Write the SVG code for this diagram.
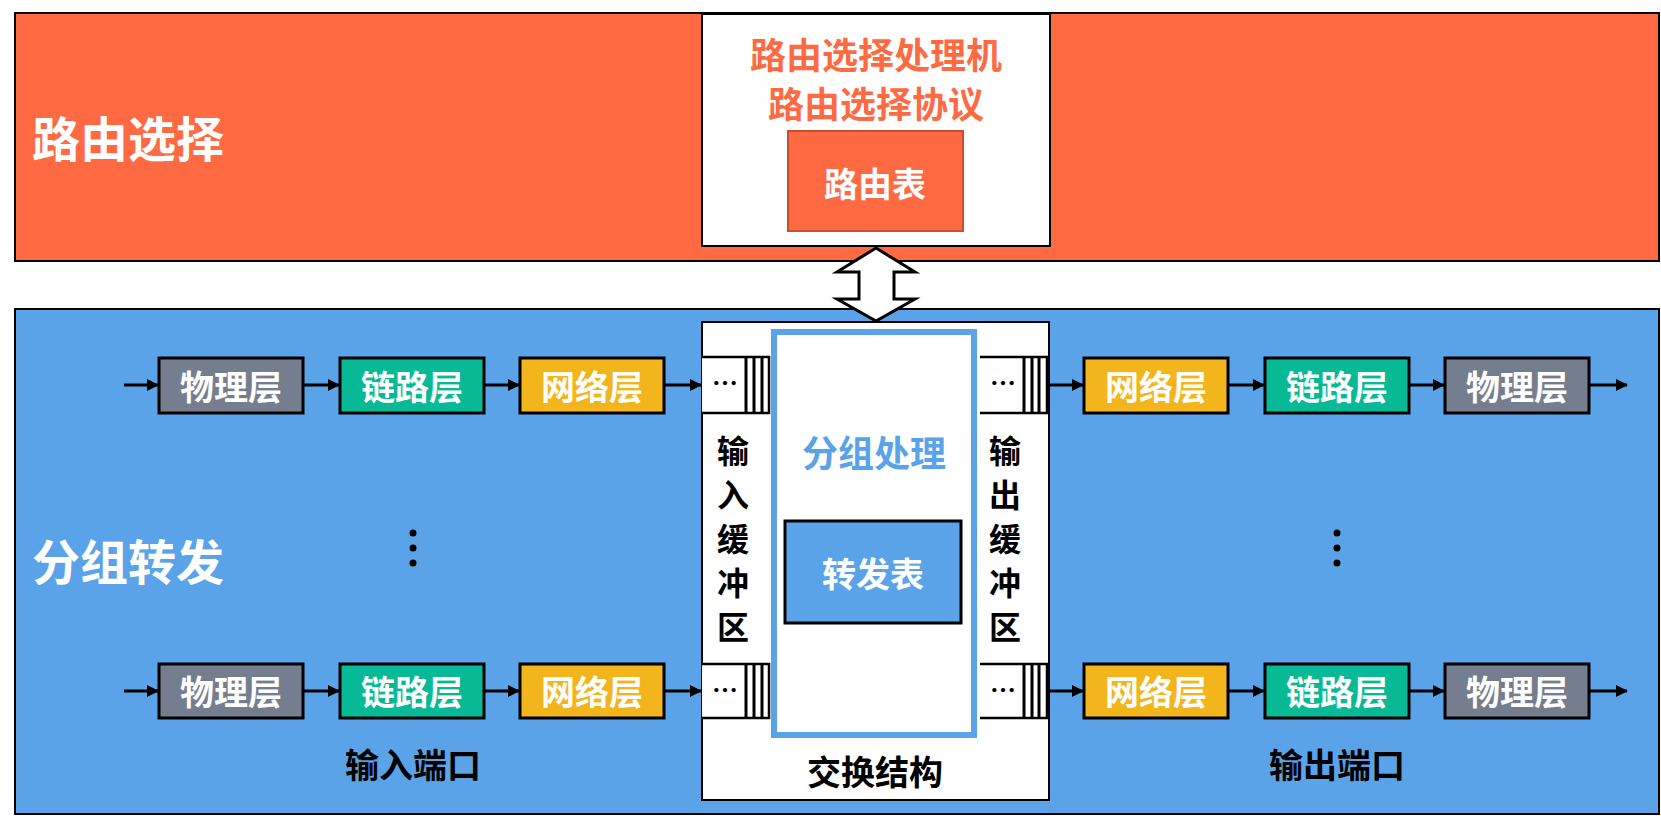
<svg xmlns="http://www.w3.org/2000/svg" width="1661" height="816" viewBox="0 0 1661 816">
<style>
text{font-family:"Noto Sans CJK SC","Liberation Sans",sans-serif;font-weight:bold;text-anchor:middle;dominant-baseline:central}
.w{fill:#fff}.k{fill:#000}
.box{stroke:#000;stroke-width:3}
.g{fill:#747e8f}.gr{fill:#08b995}.y{fill:#f2b61c}
.lt{font-size:34px}
.ln{stroke:#000;stroke-width:3;fill:none}
.buf{fill:#fff;stroke:#000;stroke-width:2.5}
</style>
<defs>
<marker id="a" markerWidth="12" markerHeight="12" refX="11" refY="6" orient="auto" markerUnits="userSpaceOnUse" viewBox="0 0 12 12"><path d="M0,0L12,6L0,12z"/></marker></defs>
<g id="routing"><rect x="15" y="13" width="1644" height="248" fill="#ff6a43" stroke="#000" stroke-width="2"/>
<text x="128" y="136" class="w" font-size="48">路由选择</text></g>
<g id="processor"><rect x="702" y="14" width="348" height="232" fill="#fff" stroke="#000" stroke-width="2"/>
<text x="876" y="53" fill="#ff6a43" font-size="36">路由选择处理机</text>
<text x="876" y="102" fill="#ff6a43" font-size="36">路由选择协议</text>
<rect x="788" y="131" width="175" height="100" fill="#ff6a43" stroke="#c9502f" stroke-width="2"/>
<text x="875" y="182" class="w" font-size="34">路由表</text></g>
<g id="forwarding"><rect x="15" y="309" width="1644" height="505" fill="#5ba3e8" stroke="#000" stroke-width="2"/>
<text x="128" y="559" class="w" font-size="48">分组转发</text></g>
<g id="fabric"><rect x="702" y="322" width="347" height="478" fill="#fff" stroke="#000" stroke-width="2"/>
<rect x="774" y="332" width="200" height="403" fill="#fff" stroke="#5ba3e8" stroke-width="6"/>
<text x="874" y="451" fill="#5ba3e8" font-size="36">分组处理</text>
<rect x="785" y="521" width="176" height="102" fill="#5ba3e8" stroke="#000" stroke-width="3"/>
<text x="873" y="572" class="w" font-size="34">转发表</text>
<text x="875" y="770" class="k" font-size="34">交换结构</text>
<g class="k" font-size="32"><text x="733" y="449">输</text><text x="733" y="493">入</text><text x="733" y="537">缓</text><text x="733" y="581">冲</text><text x="733" y="625">区</text>
<text x="1005" y="449">输</text><text x="1005" y="493">出</text><text x="1005" y="537">缓</text><text x="1005" y="581">冲</text><text x="1005" y="625">区</text></g></g>
<g id="buffers">
<path class="buf" d="M702,357H769V413H702"/><path class="ln" stroke-width="1.5" d="M746,357V413M754,357V413M762,357V413"/>
<path class="buf" d="M702,664H769V718H702"/><path class="ln" stroke-width="1.5" d="M746,664V718M754,664V718M762,664V718"/>
<path class="buf" d="M980,357H1047V413H980"/><path class="ln" stroke-width="1.5" d="M1024,357V413M1032,357V413M1039,357V413"/>
<path class="buf" d="M980,664H1047V718H980"/><path class="ln" stroke-width="1.5" d="M1024,664V718M1032,664V718M1039,664V718"/>
<g class="k" font-size="26"><text x="725" y="381">…</text><text x="725" y="688">…</text><text x="1003" y="381">…</text><text x="1003" y="688">…</text></g></g>
<g id="row1">
<rect class="box g" x="159" y="358" width="144" height="55"/><text class="w lt" x="231" y="385">物理层</text>
<rect class="box gr" x="340" y="358" width="144" height="55"/><text class="w lt" x="412" y="385">链路层</text>
<rect class="box y" x="520" y="358" width="144" height="55"/><text class="w lt" x="592" y="385">网络层</text>
<rect class="box y" x="1084" y="358" width="144" height="55"/><text class="w lt" x="1156" y="385">网络层</text>
<rect class="box gr" x="1265" y="358" width="144" height="55"/><text class="w lt" x="1337" y="385">链路层</text>
<rect class="box g" x="1445" y="358" width="144" height="55"/><text class="w lt" x="1517" y="385">物理层</text></g>
<g id="row2">
<rect class="box g" x="159" y="664" width="144" height="54"/><text class="w lt" x="231" y="690">物理层</text>
<rect class="box gr" x="340" y="664" width="144" height="54"/><text class="w lt" x="412" y="690">链路层</text>
<rect class="box y" x="520" y="664" width="144" height="54"/><text class="w lt" x="592" y="690">网络层</text>
<rect class="box y" x="1084" y="664" width="144" height="54"/><text class="w lt" x="1156" y="690">网络层</text>
<rect class="box gr" x="1265" y="664" width="144" height="54"/><text class="w lt" x="1337" y="690">链路层</text>
<rect class="box g" x="1445" y="664" width="144" height="54"/><text class="w lt" x="1517" y="690">物理层</text></g>
<g id="labels" class="k">
<circle cx="413" cy="533" r="3.5"/><circle cx="413" cy="548" r="3.5"/><circle cx="413" cy="563" r="3.5"/>
<circle cx="1337" cy="533" r="3.5"/><circle cx="1337" cy="548" r="3.5"/><circle cx="1337" cy="563" r="3.5"/>
<text x="413" y="763" font-size="34">输入端口</text><text x="1337" y="763" font-size="34">输出端口</text></g>
<g id="connectors" class="ln" marker-end="url(#a)">
<path d="M124,385H158"/><path d="M303,385H339"/><path d="M484,385H519"/><path d="M664,385H701"/>
<path d="M1049,385H1083"/><path d="M1228,385H1264"/><path d="M1409,385H1444"/><path d="M1589,385H1627"/>
<path d="M124,691H158"/><path d="M303,691H339"/><path d="M484,691H519"/><path d="M664,691H701"/>
<path d="M1049,691H1083"/><path d="M1228,691H1264"/><path d="M1409,691H1444"/><path d="M1589,691H1627"/>
<path marker-end="none" fill="#fff" stroke-width="3" d="M876,248L915,272H894V299H915L876,321L837,299H859V272H837Z"/>
</g>
</svg>
